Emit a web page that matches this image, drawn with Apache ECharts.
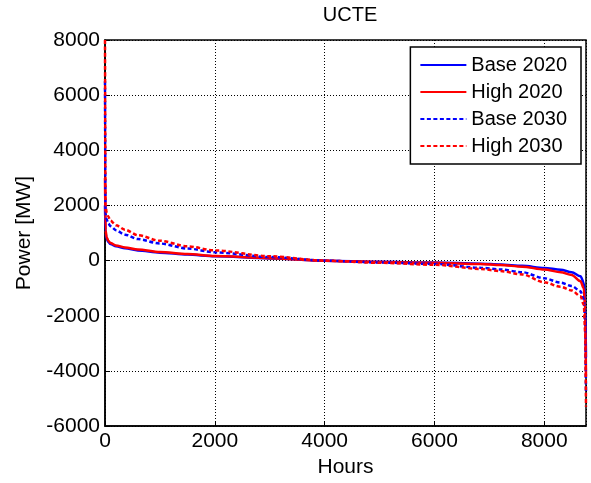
<!DOCTYPE html>
<html>
<head>
<meta charset="utf-8">
<script src="https://cdn.jsdelivr.net/npm/echarts@6/dist/echarts.min.js"></script>
<style>
  html, body { margin: 0; padding: 0; background: #fff; }
  #chart { width: 591px; height: 483px; }
</style>
</head>
<body>
<div id="chart"></div>
<script>
// hours of the (sorted) duration curve
const hours = [0, 10, 30, 60, 100, 200, 365, 600, 1000, 1500, 2000, 3000, 4000, 5000, 6000, 6840, 7200, 7600, 8000, 8300, 8500, 8660, 8720, 8745, 8760];

const base2020 = [2000, 1000, 800, 680, 600, 520, 450, 370, 290, 220, 160, 80, 0, -40, -70, -110, -140, -190, -265, -330, -420, -570, -800, -1500, -3500];
const high2020 = [3000, 1100, 850, 720, 640, 550, 480, 400, 310, 240, 170, 90, 0, -50, -80, -120, -160, -220, -325, -420, -520, -750, -1000, -1800, -4200];
const base2030 = [6500, 1700, 1500, 1350, 1250, 1100, 940, 780, 620, 440, 300, 130, 0, -70, -120, -260, -320, -420, -640, -800, -920, -1110, -1400, -2200, -4800];
const high2030 = [8000, 2000, 1750, 1600, 1450, 1280, 1120, 920, 720, 520, 370, 160, 0, -80, -150, -300, -380, -500, -785, -950, -1080, -1290, -1600, -2600, -5300];

const seriesNames = ["Base 2020", "High 2020", "Base 2030", "High 2030"];
const xTicks = [0, 2000, 4000, 6000, 8000];
const yTicks = [-6000, -4000, -2000, 0, 2000, 4000, 6000, 8000];

function pairs(vals) {
  return hours.map(function (h, i) { return [h, vals[i]]; });
}

function makeLine(name, vals, color, dashed) {
  return {
    name: name,
    type: "line",
    data: pairs(vals),
    symbol: "none",
    smooth: 0.3,
    smoothMonotone: "x",
    lineStyle: { color: color, width: 2.5, type: dashed ? [4, 2.5] : "solid" },
    itemStyle: { color: color },
    animation: false
  };
}

const font = "Liberation Sans";

let myChart = echarts.init(document.getElementById("chart"));
myChart.setOption({
  backgroundColor: "#fff",
  title: {
    text: "UCTE",
    left: 345,
    textAlign: "center",
    top: 0,
    textStyle: { fontFamily: font, fontSize: 20, fontWeight: "normal", color: "#000" }
  },
  legend: {
    data: seriesNames,
    orient: "vertical",
    right: 10,
    top: 47,
    itemWidth: 46,
    itemHeight: 12,
    itemGap: 7,
    padding: [8, 14, 8, 9],
    borderColor: "#000",
    borderWidth: 1.5,
    backgroundColor: "#fff",
    itemStyle: { color: "rgba(0,0,0,0)", borderWidth: 0 },
    textStyle: { fontFamily: font, fontSize: 20, color: "#000" }
  },
  grid: {
    left: 105,
    right: 5,
    top: 40,
    bottom: 56,
    show: true,
    borderColor: "#000",
    borderWidth: 1.5
  },
  xAxis: {
    type: "value",
    min: 0,
    max: 8760,
    interval: 2000,
    name: "Hours",
    nameLocation: "middle",
    nameGap: 30,
    nameTextStyle: { fontFamily: font, fontSize: 21, color: "#000" },
    axisLine: { onZero: false, lineStyle: { color: "#000", width: 1.5 } },
    axisTick: { inside: true, length: 5, lineStyle: { color: "#000" } },
    axisLabel: {
      fontFamily: font, fontSize: 21, color: "#000", margin: 5,
      showMaxLabel: false,
      formatter: function (v) { return xTicks.indexOf(v) >= 0 ? String(v) : ""; }
    },
    splitLine: { show: true, lineStyle: { color: "#000", type: [1, 2], width: 1 } }
  },
  yAxis: {
    type: "value",
    min: -6000,
    max: 8000,
    interval: 2000,
    name: "Power [MW]",
    nameLocation: "middle",
    nameGap: 70,
    nameTextStyle: { fontFamily: font, fontSize: 21, color: "#000" },
    axisLine: { onZero: false, lineStyle: { color: "#000", width: 1.5 } },
    axisTick: { inside: true, length: 5, lineStyle: { color: "#000" } },
    axisLabel: {
      fontFamily: font, fontSize: 21, color: "#000", margin: 5,
      formatter: function (v) { return yTicks.indexOf(v) >= 0 ? String(v) : ""; }
    },
    splitLine: { show: true, lineStyle: { color: "#000", type: [1, 2], width: 1 } }
  },
  series: [
    makeLine(seriesNames[0], base2020, "#0000ff", false),
    makeLine(seriesNames[1], high2020, "#ff0000", false),
    makeLine(seriesNames[2], base2030, "#0000ff", true),
    makeLine(seriesNames[3], high2030, "#ff0000", true)
  ]
});
</script>
</body>
</html>
